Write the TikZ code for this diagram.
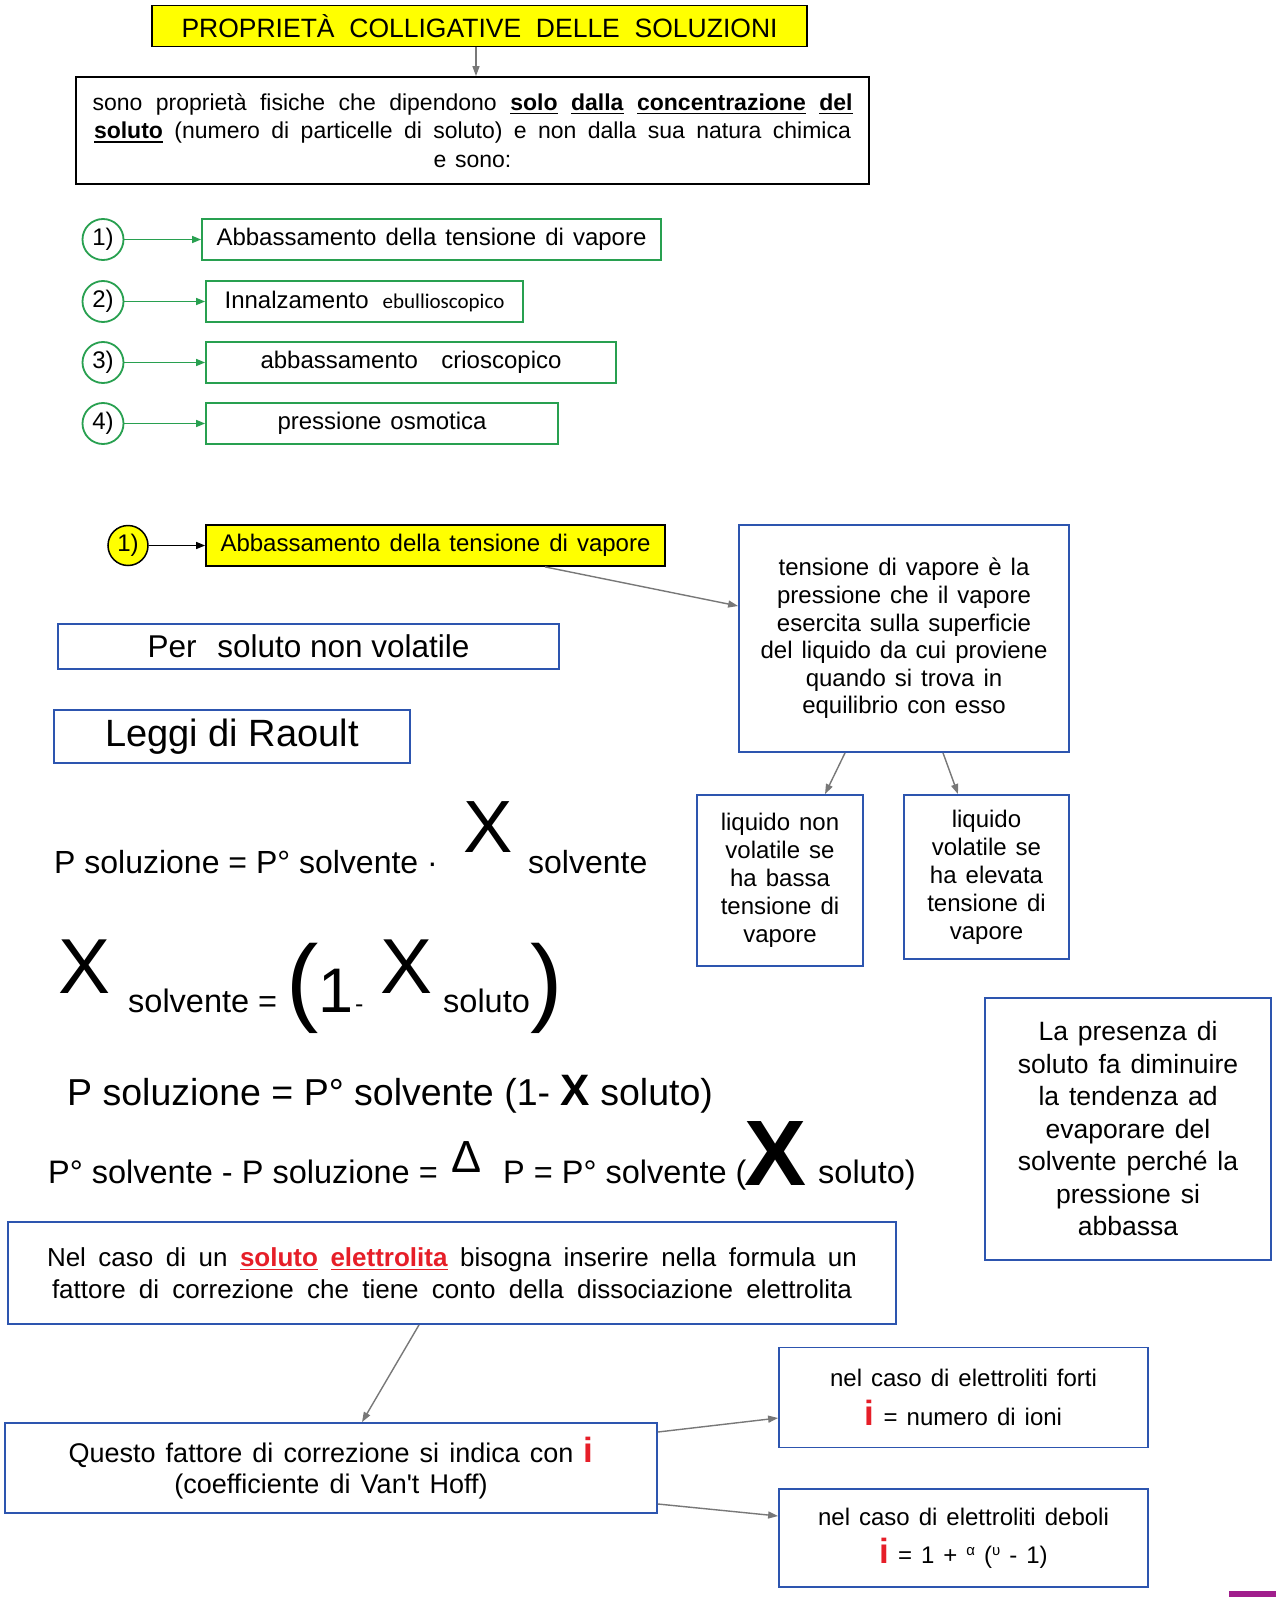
\documentclass[tikz,border=0pt]{standalone}
\usepackage{fontspec}
\setmainfont{Liberation Sans}[WordSpace=1.35]
\newfontfamily\ffont{Liberation Sans}
\newfontfamily\calfont{Carlito}
\usetikzlibrary{arrows.meta,calc}
\definecolor{myyellow}{RGB}{255,255,0}
\definecolor{mygreen}{RGB}{40,160,80}
\definecolor{myblue}{RGB}{45,85,175}
\definecolor{mygray}{RGB}{120,120,120}
\definecolor{myred}{RGB}{230,30,40}
\definecolor{mypurple}{RGB}{160,30,140}
\newcommand\fs[2]{\fontsize{#1}{#2}\selectfont}
\newcommand\sline[2]{\makebox[#1pt][s]{#2}}
\newsavebox\ubox
\newcommand\und[1]{\sbox\ubox{\textbf{#1}}\rlap{\rule[-4pt]{\wd\ubox}{1.8pt}}\usebox\ubox}
\newcommand\rund[1]{{\color{myred}\und{#1}}}
\newcommand\redi{{\color{myred}\fs{35}{35}\bfseries i}}
\newcommand\sups[1]{\raisebox{8pt}{\fs{15}{15}#1}}
\newcommand\sq{{\addfontfeature{Ligatures=TeXOff}'}}
\begin{document}
\begin{tikzpicture}[x=1pt,y=-1pt,
  box/.style={rectangle, line width=1.8pt, inner sep=0pt, align=center},
  kbox/.style={box, draw=black},
  ybox/.style={box, draw=black, fill=myyellow},
  gbox/.style={box, draw=mygreen, minimum height=41pt, font=\fs{24}{28}},
  bbox/.style={box, draw=myblue},
  gcirc/.style={circle, draw=mygreen, line width=1.8pt, minimum size=41pt, inner sep=0pt, font=\fs{24}{28}},
  ycirc/.style={circle, draw=black, fill=myyellow, line width=1.5pt, minimum size=40pt, inner sep=0pt, font=\fs{24}{28}},
  garrow/.style={draw=mygreen, line width=1.5pt, -{Triangle[length=9pt,width=7pt]}},
  karrow/.style={draw=black, line width=1.3pt, -{Triangle[length=9pt,width=7pt]}},
  grarrow/.style={draw=mygray, line width=1.4pt, -{Triangle[length=10pt,width=7pt]}},
  fm/.style={anchor=base west, inner sep=0pt, font=\ffont}
]
\useasboundingbox (0,0) rectangle (1276,1597);
\fill[white] (0,0) rectangle (1276,1597);

% title and description
\node[ybox, minimum width=655pt, minimum height=41pt, font=\fs{26.5}{30}] (title) at (479.5,26) {\sline{596}{PROPRIETÀ COLLIGATIVE DELLE SOLUZIONI}};
\node[kbox, minimum width=793pt, minimum height=107pt, font=\fs{23}{28.5}] (desc) at (472.5,130.5) {\sline{760}{sono proprietà fisiche che dipendono \und{solo} \und{dalla} \und{concentrazione} \und{del}}\\ \sline{757}{\und{soluto} (numero di particelle di soluto) e non dalla sua natura chimica}\\ e sono:};
\draw[grarrow] ([xshift=-3.5pt]title.south) -- ([xshift=3.5pt]desc.north);

% list of properties
\node[gcirc] (c1) at (103,239.5) {1)};
\node[gcirc] (c2) at (103,301.5) {2)};
\node[gcirc] (c3) at (103,362.5) {3)};
\node[gcirc] (c4) at (103,423.5) {4)};
\node[gbox, minimum width=459pt] (g1) at (431.5,239.5) {\sline{430}{Abbassamento della tensione di vapore}};
\node[gbox, minimum width=317pt] (g2) at (364.5,301.5) {Innalzamento\hspace{14pt}{\calfont\fs{21}{26}ebullioscopico}};
\node[gbox, minimum width=410pt] (g3) at (411,362.5) {\sline{301}{abbassamento crioscopico}};
\node[gbox, minimum width=352pt] (g4) at (382,423.5) {\sline{209}{pressione osmotica}};
\draw[garrow] (c1) -- (g1);
\draw[garrow] (c2) -- (g2);
\draw[garrow] (c3) -- (g3);
\draw[garrow] (c4) -- (g4);

% section 1
\node[ycirc] (y1) at (128,545.5) {1)};
\node[ybox, minimum width=459pt, minimum height=41pt, font=\fs{24}{28}] (yb) at (435.5,545.5) {\sline{430}{Abbassamento della tensione di vapore}};
\draw[karrow] (y1) -- (yb);

\node[bbox, minimum width=330pt, minimum height=227pt, font=\fs{24}{27.6}] (tens) at (904,638.5) {tensione di vapore è la\\ pressione che il vapore\\ esercita sulla superficie\\ del liquido da cui proviene\\ quando si trova in\\ equilibrio con esso};
\draw[grarrow] ([xshift=109.5pt]yb.south) -- ([yshift=32.5pt]tens.west);

\node[bbox, minimum width=166pt, minimum height=171pt, font=\fs{24}{28}] (liqn) at (780,880.5) {liquido non\\ volatile se\\ ha bassa\\ tensione di\\ vapore};
\node[bbox, minimum width=165pt, minimum height=164pt, font=\fs{24}{28}] (liqv) at (986.5,877) {liquido\\ volatile se\\ ha elevata\\ tensione di\\ vapore};
\draw[grarrow] ([xshift=-59pt]tens.south) -- ([xshift=45pt]liqn.north);
\draw[grarrow] ([xshift=39pt]tens.south) -- ([xshift=-28.5pt]liqv.north);

\node[bbox, minimum width=501pt, minimum height=45pt, font=\ffont\fs{31.5}{36}] (perso) at (308.5,646.5) {Per\hspace{12pt} soluto non volatile};
\node[bbox, minimum width=356pt, minimum height=53pt, font=\ffont\fs{38}{42}] (leggi) at (232,736.5) {Leggi di Raoult};

% formulas
\node[fm, font=\ffont\fs{32}{38}] (f1a) at (54,873) {P soluzione = P° solvente ·};
\node[fm, font=\ffont\fs{74}{80}] (f1x) at (463,852) {X};
\node[fm, font=\ffont\fs{32}{38}] (f1b) at (528,873) {solvente};

\node[fm, font=\ffont\fs{78}{84}] (f2x) at (58,993) {X};
\node[fm, font=\ffont\fs{32.5}{38}] (f2a) at (128,1012) {solvente =};
\node[fm, font=\ffont\fs{97}{100}] (f2p) at (286,1013) {(};
\node[fm, font=\ffont\fs{63}{66}] (f2one) at (318,1012) {1};
\node[fm, font=\ffont\fs{25}{30}] (f2m) at (355,1012) {-};
\node[fm, font=\ffont\fs{78}{84}] (f2y) at (380,993) {X};
\node[fm, font=\ffont\fs{32.5}{38}] (f2b) at (443,1012) {soluto};
\node[fm, font=\ffont\fs{97}{100}] (f2q) at (530,1013) {)};

\node[fm, font=\ffont\fs{37.5}{42}] (f3) at (67,1105) {P soluzione = P° solvente (1- {\fs{44}{48}\bfseries X} soluto)};

\node[fm, font=\ffont\fs{32.5}{38}] (f4a) at (48,1183) {P° solvente - P soluzione =};
\node[fm, font=\ffont\fs{45}{50}] (f4d) at (451,1172) {Δ};
\node[fm, font=\ffont\fs{32.5}{38}] (f4b) at (503,1183) {P = P° solvente (};
\node[fm, font=\ffont\fs{93}{98}\bfseries] (f4x) at (744,1185) {X};
\node[fm, font=\ffont\fs{32.5}{38}] (f4c) at (818,1183) {soluto)};

\node[bbox, minimum width=286pt, minimum height=262pt, font=\fs{26.5}{32.5}] (pres) at (1128,1129) {La presenza di\\ soluto fa diminuire\\ la tendenza ad\\ evaporare del\\ solvente perché la\\ pressione si\\ abbassa};

% electrolytes
\node[bbox, minimum width=888pt, minimum height=102pt, font=\fs{26}{32}] (nel) at (452,1273) {\sline{810}{Nel caso di un \rund{soluto} \rund{elettrolita} bisogna inserire nella formula un}\\ \sline{800}{fattore di correzione che tiene conto della dissociazione elettrolita}};
\node[bbox, minimum width=652pt, minimum height=90pt, font=\fs{27}{31}] (que) at (331,1468) {Questo fattore di correzione si indica con \redi\\ (coefficiente di Van\sq t Hoff)};
\node[bbox, minimum width=369pt, minimum height=100pt, font=\fs{24}{39}] (forti) at (963.5,1397.5) {nel caso di elettroliti forti\\ \redi{} = numero di ioni};
\node[bbox, minimum width=369pt, minimum height=98pt, font=\fs{24}{38}] (debo) at (963.5,1538) {nel caso di elettroliti deboli\\ \redi{} = 1 + \sups{α} (\sups{υ} - 1)};
\draw[grarrow] ([xshift=-33pt]nel.south) -- ([xshift=31pt]que.north);
\draw[grarrow] ([yshift=36pt]que.east) -- ([yshift=-20.5pt]forti.west);
\draw[grarrow] ([yshift=-36pt]que.east) -- ([yshift=22pt]debo.west);

\fill[mypurple] (1229,1591) rectangle (1276,1597);
\end{tikzpicture}
\end{document}
